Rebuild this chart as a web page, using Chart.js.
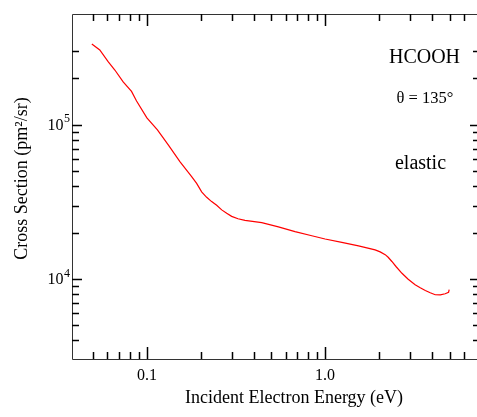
<!DOCTYPE html>
<html>
<head>
<meta charset="utf-8">
<script src="https://cdn.jsdelivr.net/npm/chart.js@4/dist/chart.umd.min.js"></script>
<style>
  html, body { margin: 0; padding: 0; background: #fff; overflow: hidden; }
  #wrap { width: 482px; height: 417px; }
</style>
</head>
<body>
<div id="wrap"><canvas id="xsChart" width="482" height="417"></canvas></div>
<script>
// elastic cross section of HCOOH at 135 deg vs incident energy
const energy = [0.0491, 0.0544, 0.0606, 0.0661, 0.0736, 0.0820, 0.0875, 0.100, 0.1146, 0.1318,
  0.1532, 0.1783, 0.1902, 0.2029, 0.2165, 0.2309, 0.2464, 0.263, 0.2804, 0.299,
  0.3246, 0.3553, 0.441, 0.547, 0.678, 0.842, 1.00, 1.241, 1.54, 1.715,
  1.909, 2.037, 2.174, 2.259, 2.37, 2.506, 2.70, 2.926, 3.20, 3.419,
  3.65, 3.89, 4.15, 4.43, 4.72, 4.93, 4.97];
const crossSection = [335000, 306000, 257000, 227000, 190000, 165000, 143000, 111000, 92800, 74200,
  57800, 46200, 41780, 36800, 33900, 31800, 30080, 28100, 26700, 25500,
  24600, 24000, 23200, 21800, 20300, 19100, 18200, 17300, 16400, 15950,
  15450, 15000, 14400, 13850, 13000, 12020, 10900, 9970, 9180, 8780,
  8430, 8150, 7910, 7890, 8030, 8210, 8530];

const xRange = [0.038, 7.4];
const yRange = [3030, 524000];
const xMajorTicks = [0.1, 1];
const xMajorLabels = ['0.1', '1.0'];
const xMinorTicks = [0.05, 0.06, 0.07, 0.08, 0.09, 0.2, 0.3, 0.4, 0.5, 0.6, 0.7, 0.8, 0.9, 2, 3, 4, 5, 6];
const yMajorTicks = [1e4, 1e5];
const yMajorExponents = ['4', '5'];
const yMinorTicks = [4000, 5000, 6000, 7000, 8000, 9000, 20000, 30000, 40000, 50000, 60000, 70000, 80000, 90000, 200000, 300000];

const serif = '"Liberation Serif", "Times New Roman", serif';

// frame, inward ticks and all the text
const framePlugin = {
  id: 'frame',
  afterDraw(chart) {
    const ctx = chart.ctx;
    const { left, right, top, bottom } = chart.chartArea;
    const xs = chart.scales.x, ys = chart.scales.y;
    ctx.save();

    ctx.strokeStyle = '#333';
    ctx.lineWidth = 1;
    ctx.beginPath();
    ctx.moveTo(left + 0.5, top + 0.5);
    ctx.lineTo(right + 0.5, top + 0.5);
    ctx.lineTo(right + 0.5, bottom + 0.5);
    ctx.lineTo(left + 0.5, bottom + 0.5);
    ctx.closePath();
    ctx.stroke();

    ctx.strokeStyle = '#000';
    ctx.lineWidth = 1.5;
    function xTick(v, len) {
      const px = Math.round(xs.getPixelForValue(v)) + 0.5;
      ctx.beginPath();
      ctx.moveTo(px, bottom); ctx.lineTo(px, bottom - len);
      ctx.moveTo(px, top); ctx.lineTo(px, top + len);
      ctx.stroke();
    }
    function yTick(v, len) {
      const py = Math.round(ys.getPixelForValue(v)) + 0.5;
      ctx.beginPath();
      ctx.moveTo(left, py); ctx.lineTo(left + len, py);
      ctx.moveTo(right, py); ctx.lineTo(right - len, py);
      ctx.stroke();
    }
    xMinorTicks.forEach(v => xTick(v, 7));
    xMajorTicks.forEach(v => xTick(v, 12));
    yMinorTicks.forEach(v => yTick(v, 7));
    yMajorTicks.forEach(v => yTick(v, 10));

    ctx.fillStyle = '#000';
    ctx.font = '16px ' + serif;
    ctx.textAlign = 'center';
    ctx.textBaseline = 'alphabetic';
    xMajorTicks.forEach((v, i) => {
      ctx.fillText(xMajorLabels[i], xs.getPixelForValue(v), 380);
    });

    yMajorTicks.forEach((v, i) => {
      const py = ys.getPixelForValue(v);
      ctx.font = '16px ' + serif;
      ctx.textAlign = 'right';
      ctx.fillText('10', 63.5, py + 5);
      ctx.font = '12px ' + serif;
      ctx.textAlign = 'left';
      ctx.fillText(yMajorExponents[i], 64, py - 2.5);
    });

    // axis titles
    ctx.font = '18px ' + serif;
    ctx.textAlign = 'center';
    ctx.fillText('Incident Electron Energy (eV)', 294, 402.5);

    ctx.save();
    ctx.translate(26.5, 178.5);
    ctx.rotate(-Math.PI / 2);
    ctx.fillText('Cross Section (pm²/sr)', 0, 0);
    ctx.restore();

    // annotations
    ctx.textAlign = 'center';
    ctx.font = '20px ' + serif;
    ctx.fillText('HCOOH', 424.5, 62.5);
    ctx.font = '16.5px ' + serif;
    ctx.fillText('θ = 135°', 425, 103);
    ctx.font = '20px ' + serif;
    ctx.fillText('elastic', 420.5, 168.5);

    ctx.restore();
  }
};

new Chart(document.getElementById('xsChart'), {
  type: 'line',
  data: {
    datasets: [{
      data: energy.map((e, i) => ({ x: e, y: crossSection[i] })),
      borderColor: '#ff0000',
      borderWidth: 1.2,
      pointRadius: 0,
      tension: 0,
      fill: false
    }]
  },
  options: {
    responsive: false,
    animation: false,
    layout: { padding: { top: 14, right: 2, left: 0, bottom: 0 } },
    plugins: { legend: { display: false }, tooltip: { enabled: false } },
    scales: {
      x: {
        type: 'logarithmic',
        min: xRange[0], max: xRange[1],
        ticks: { display: false },
        grid: { display: false },
        border: { display: false },
        afterFit: s => { s.height = 58; }
      },
      y: {
        type: 'logarithmic',
        min: yRange[0], max: yRange[1],
        ticks: { display: false },
        grid: { display: false },
        border: { display: false },
        afterFit: s => { s.width = 72; }
      }
    }
  },
  plugins: [framePlugin]
});
</script>
</body>
</html>
